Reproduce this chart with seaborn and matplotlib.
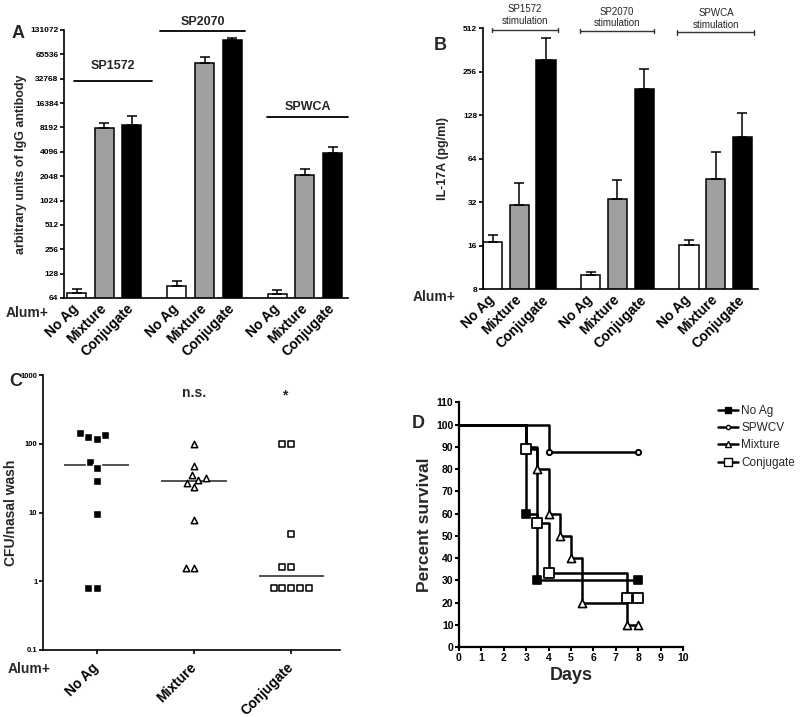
import numpy as np
import pandas as pd
import matplotlib
matplotlib.use("Agg")
import matplotlib.pyplot as plt
from matplotlib.lines import Line2D
from matplotlib.ticker import NullLocator
import seaborn as sns

#####################################################################
# Data
#####################################################################
treatments = ['No Ag', 'Mixture', 'Conjugate']

# panel A - IgG titres
igg_groups = ['SP1572', 'SP2070', 'SPWCA']
igg_mean = [73, 8080, 8700, 90, 51000, 97300, 71, 2120, 3960]
igg_top = [82, 9200, 11340, 103, 61200, 105000, 80, 2500, 4680]

# panel B - IL-17A
il17_groups = ['SP1572\nstimulation', 'SP2070\nstimulation', 'SPWCA\nstimulation']
il17_mean = [16.9, 30.8, 307, 10.0, 33.6, 196, 16.3, 46.4, 91]
il17_top = [18.9, 43.7, 437, 10.5, 45.4, 269, 17.6, 71, 132]

# panel C - CFU per nasal wash
cfu_noag = [134, 117, 126, 145, 53.7, 44.7, 29, 9.6, 0.8, 0.8]
cfu_mixture = [100, 48, 35, 31.8, 29.7, 26.9, 23.7, 7.9, 1.57, 1.57]
cfu_conjugate = [100, 100, 4.9, 1.6, 1.6, 0.8, 0.8, 0.8, 0.8, 0.8]

# panel D - survival
surv_days = {
    'No Ag': [0, 3, 3.5, 8],
    'SPWCV': [0, 4, 8],
    'Mixture': [0, 3, 3.5, 4, 4.5, 5, 5.5, 7.5, 8],
    'Conjugate': [0, 3, 3.5, 4, 7.5, 8],
}
surv_pct = {
    'No Ag': [100, 60, 30, 30],
    'SPWCV': [100, 87.5, 87.5],
    'Mixture': [100, 90, 80, 60, 50, 40, 20, 10, 10],
    'Conjugate': [100, 88.9, 55.6, 33.3, 22.2, 22.2],
}

#####################################################################
# Style
#####################################################################
sns.set_style('ticks')
plt.rcParams['font.family'] = ['Liberation Sans', 'DejaVu Sans']
plt.rcParams['axes.linewidth'] = 1.2
plt.rcParams['xtick.major.width'] = 1.2
plt.rcParams['ytick.major.width'] = 1.2
plt.rcParams['xtick.color'] = 'black'
plt.rcParams['ytick.color'] = 'black'
plt.rcParams['axes.edgecolor'] = 'black'

PAL = {'No Ag': 'white', 'Mixture': '#a0a0a0', 'Conjugate': 'black'}
W, H = 800, 717

fig = plt.figure(figsize=(8, 7.17), dpi=100)


def px_axes(left, top, right, bottom):
    return fig.add_axes([left / W, 1 - bottom / H, (right - left) / W, (bottom - top) / H])


def bar_panel(ax, means, tops, gap, width, ticks, xlim):
    pos = [g * gap + i for g in range(3) for i in range(3)]
    df = pd.DataFrame({'pos': pos, 'value': means, 'treatment': treatments * 3})
    sns.barplot(data=df, x='pos', y='value', hue='treatment', palette=PAL,
                native_scale=True, dodge=False, width=width, edgecolor='black',
                linewidth=1.1, errorbar=None, legend=False, ax=ax)
    up = np.array(tops) - np.array(means)
    ax.errorbar(pos, means, yerr=[np.zeros(len(up)), up], fmt='none', ecolor='black',
                elinewidth=1.1, capsize=3.5, capthick=1.1, zorder=1)
    ax.set_yscale('log', base=2)
    ax.yaxis.set_minor_locator(NullLocator())
    ax.set_yticks(ticks)
    ax.set_yticklabels([str(t) for t in ticks], fontsize=6, fontweight='bold')
    ax.set_ylim(ticks[0], ticks[-1])
    ax.set_xlim(*xlim)
    ax.set_xticks(pos)
    ax.set_xticklabels(treatments * 3, rotation=45, ha='right', va='center',
                       rotation_mode='anchor', fontsize=10, fontweight='bold')
    ax.tick_params(axis='x', length=0, pad=6)
    ax.tick_params(axis='y', length=3, pad=1)
    ax.set_xlabel('')
    sns.despine(ax=ax)
    return pos


#####################################################################
# A
#####################################################################
axA = px_axes(64, 30, 348, 298)
gapA = 3.64
bar_panel(axA, igg_mean, igg_top, gapA, 0.69, [64 * 2 ** k for k in range(12)], (-0.455, 9.84))
axA.set_ylabel('arbitrary units of IgG antibody', fontsize=9, fontweight='bold', labelpad=2)
line_ext = [(-0.09, 2.75), (-0.6, 2.46), (-0.38, 2.56)]
line_y = [0.811, 0.996, 0.675]
text_y = [0.866, 1.031, 0.713]
for g, name in enumerate(igg_groups):
    x0, x1 = g * gapA + line_ext[g][0], g * gapA + line_ext[g][1]
    axA.plot([x0, x1], [line_y[g]] * 2, color='black', lw=1.3,
             transform=axA.get_xaxis_transform(), clip_on=False)
    axA.text((x0 + x1) / 2, text_y[g], name, ha='center', va='center', fontsize=9,
             fontweight='bold', transform=axA.get_xaxis_transform())

#####################################################################
# B
#####################################################################
axB = px_axes(482.7, 28.3, 757.7, 289.3)
gapB = 3.67
bar_panel(axB, il17_mean, il17_top, gapB, 0.72, [8 * 2 ** k for k in range(7)], (-0.367, 9.91))
axB.set_ylabel('IL-17A (pg/ml)', fontsize=9, fontweight='bold', labelpad=10)
brk_ext = [(-0.03, 2.45), (-0.41, 2.36), (-0.43, 2.45)]
brk_y = [0.9935, 0.99, 0.985]
txt_y = [1.051, 1.042, 1.036]
tr = axB.get_xaxis_transform()
for g, name in enumerate(il17_groups):
    x0, x1 = g * gapB + brk_ext[g][0], g * gapB + brk_ext[g][1]
    axB.plot([x0, x1], [brk_y[g]] * 2, color='#333333', lw=1.0, transform=tr, clip_on=False)
    for xe in (x0, x1):
        axB.plot([xe, xe], [brk_y[g] - 0.009, brk_y[g] + 0.009], color='#333333', lw=1.0,
                 transform=tr, clip_on=False)
    axB.text((x0 + x1) / 2, txt_y[g], name, ha='center', va='center', fontsize=7,
             linespacing=1.15, transform=tr)

#####################################################################
# C
#####################################################################
axC = px_axes(43, 375, 340, 650)
cfu = {'No Ag': cfu_noag, 'Mixture': cfu_mixture, 'Conjugate': cfu_conjugate}
mstyle = {'No Ag': dict(marker='s', color='black', edgecolor='white', size=5.2, linewidth=1.0),
          'Mixture': dict(marker='^', color='white', edgecolor='black', size=4.6, linewidth=1.1),
          'Conjugate': dict(marker='s', color='white', edgecolor='black', size=5.0, linewidth=1.1)}
for i, t in enumerate(treatments):
    d = pd.DataFrame({'group': t, 'cfu': cfu[t]})
    sns.swarmplot(data=d, x='group', y='cfu', order=treatments, log_scale=True,
                  ax=axC, **mstyle[t])
    axC.hlines(np.median(cfu[t]), i - 0.335, i + 0.335, color='#333333', lw=1.2)
axC.set_ylim(0.1, 1000)
axC.set_xlim(-0.55, 2.5)
axC.yaxis.set_minor_locator(NullLocator())
axC.set_yticks([0.1, 1, 10, 100, 1000])
axC.set_yticklabels(['0.1', '1', '10', '100', '1000'], fontsize=5.5, fontweight='bold')
axC.set_xticks(range(3))
axC.set_xticklabels(treatments, rotation=45, ha='right', va='center',
                    rotation_mode='anchor', fontsize=10, fontweight='bold')
axC.tick_params(axis='x', length=3, pad=8)
axC.tick_params(axis='y', length=3, pad=1)
axC.set_xlabel('')
axC.set_ylabel('CFU/nasal wash', fontsize=10, fontweight='bold', labelpad=2)
axC.text(1, 0.935, 'n.s.', transform=axC.get_xaxis_transform(), ha='center', va='center',
         fontsize=10, fontweight='bold')
axC.text(1.93, 0.925, '*', transform=axC.get_xaxis_transform(), ha='center', va='center',
         fontsize=10, fontweight='bold')
sns.despine(ax=axC)

#####################################################################
# D
#####################################################################
axD = px_axes(459, 402.3, 683, 647.3)
dstyle = {'No Ag': dict(marker='s', facecolor='black', s=30, linewidth=1.2),
          'SPWCV': dict(marker='o', facecolor='white', s=14, linewidth=1.4),
          'Mixture': dict(marker='^', facecolor='white', s=34, linewidth=1.2),
          'Conjugate': dict(marker='s', facecolor='white', s=50, linewidth=1.3)}
handles = []
for name in surv_days:
    sns.lineplot(x=surv_days[name], y=surv_pct[name], ax=axD, color='black', lw=1.8,
                 drawstyle='steps-post', estimator=None, sort=False)
    sns.scatterplot(x=surv_days[name][1:], y=surv_pct[name][1:], ax=axD, edgecolor='black',
                    zorder=5, clip_on=False, **dstyle[name])
    st = dstyle[name]
    handles.append(Line2D([0], [0], color='black', lw=1.8, marker=st['marker'],
                          markerfacecolor=st['facecolor'], markeredgecolor='black',
                          markersize=np.sqrt(st['s']) * 0.8, label=name))
axD.set_xlim(0, 10)
axD.set_ylim(0, 110)
axD.set_xticks(range(11))
axD.set_yticks(range(0, 111, 10))
axD.tick_params(length=3, width=1.5, pad=1, labelsize=7.5)
for lab in axD.get_xticklabels() + axD.get_yticklabels():
    lab.set_fontweight('bold')
for sp in ('left', 'bottom'):
    axD.spines[sp].set_linewidth(1.6)
axD.set_xlabel('Days', fontsize=13, fontweight='bold', labelpad=3)
axD.set_ylabel('Percent survival', fontsize=12.5, fontweight='bold', labelpad=3)
sns.despine(ax=axD)
fig.legend(handles=handles, loc='upper left', bbox_to_anchor=(713 / W, 1 - 400 / H),
           frameon=False, fontsize=8.5, handlelength=1.7, handletextpad=0.3,
           labelspacing=0.45, borderaxespad=0)

#####################################################################
# Panel letters and Alum+ labels
#####################################################################
for letter, x, y in [('A', 12, 33), ('B', 434, 45), ('C', 9, 382), ('D', 412, 423)]:
    fig.text(x / W, 1 - y / H, letter, fontsize=13, fontweight='bold', va='center', ha='left')
for x, y in [(6, 313), (413, 297), (8, 669)]:
    fig.text(x / W, 1 - y / H, 'Alum+', fontsize=10, fontweight='bold', va='center', ha='left')

fig.savefig('out.png', dpi=100, facecolor='white')
